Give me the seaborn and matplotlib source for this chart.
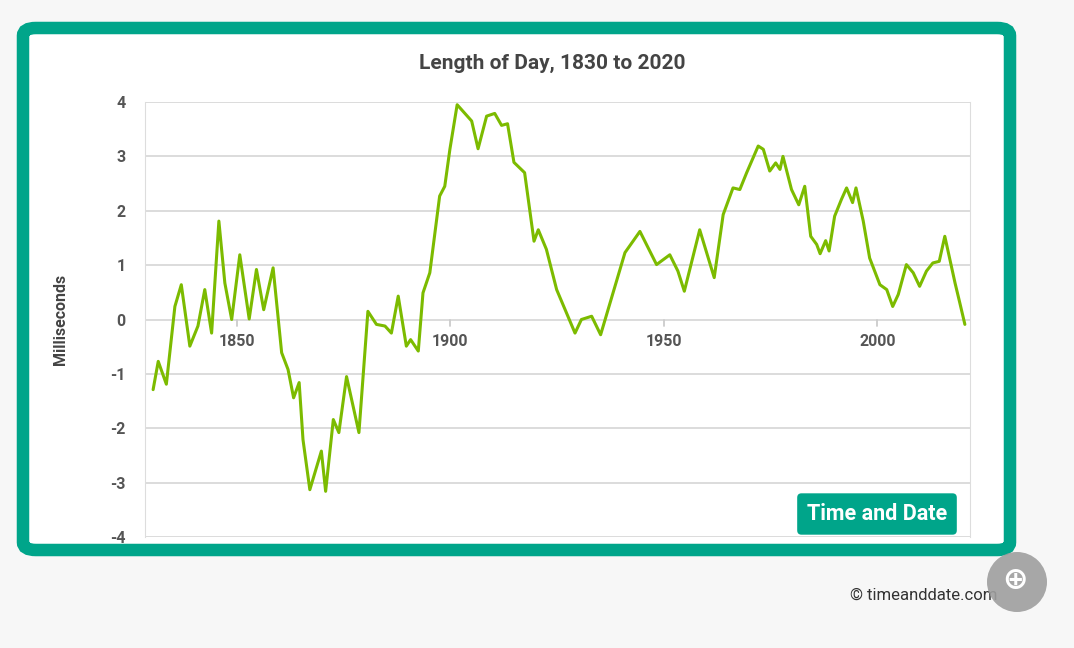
import matplotlib
matplotlib.use('Agg')
import matplotlib.pyplot as plt
from matplotlib.patches import FancyBboxPatch, Ellipse
import seaborn as sns
import pandas as pd

# values (year, milliseconds)
years = [1830.4, 1831.6, 1833.5, 1835.5, 1837.0, 1839.0, 1840.9, 1842.5, 1844.1, 1845.8,
         1847.2, 1848.8, 1850.7, 1852.9, 1854.6, 1856.3, 1858.5, 1860.5, 1862.0, 1863.3,
         1864.6, 1865.5, 1867.1, 1869.8, 1870.8, 1872.6, 1873.9, 1875.7, 1878.6, 1880.7,
         1882.7, 1884.7, 1886.2, 1887.8, 1889.7, 1890.7, 1892.5, 1893.6, 1895.2, 1897.5,
         1898.7, 1899.9, 1901.6, 1905.0, 1906.5, 1908.5, 1910.4, 1912.0, 1913.4, 1914.9,
         1917.4, 1919.6, 1920.6, 1922.5, 1924.9, 1929.2, 1930.7, 1933.1, 1935.2, 1940.9,
         1944.4, 1948.3, 1951.4, 1953.3, 1954.8, 1958.4, 1961.8, 1963.9, 1966.2, 1967.8,
         1969.4, 1972.1, 1973.3, 1974.8, 1976.2, 1977.2, 1977.9, 1979.9, 1981.6, 1983.0,
         1984.4, 1985.8, 1986.6, 1987.9, 1988.7, 1990.0, 1991.6, 1992.8, 1994.2, 1995.0,
         1996.7, 1998.2, 2000.6, 2002.2, 2003.6, 2004.9, 2006.8, 2008.4, 2009.9, 2011.5,
         2013.0, 2014.5, 2015.8, 2018.2, 2019.3, 2020.5]
lod = [-1.29, -0.77, -1.19, 0.24, 0.64, -0.49, -0.12, 0.55, -0.25, 1.81,
       0.67, 0.0, 1.19, 0.01, 0.92, 0.18, 0.95, -0.61, -0.92, -1.44,
       -1.16, -2.21, -3.13, -2.42, -3.16, -1.84, -2.08, -1.05, -2.08, 0.15,
       -0.09, -0.12, -0.25, 0.43, -0.49, -0.37, -0.58, 0.49, 0.86, 2.27,
       2.45, 3.13, 3.95, 3.65, 3.14, 3.74, 3.79, 3.57, 3.6, 2.89,
       2.70, 1.44, 1.65, 1.29, 0.55, -0.25, 0.0, 0.06, -0.28, 1.23,
       1.62, 1.01, 1.19, 0.89, 0.52, 1.65, 0.77, 1.93, 2.42, 2.39,
       2.70, 3.19, 3.13, 2.73, 2.88, 2.76, 3.0, 2.39, 2.11, 2.45,
       1.53, 1.38, 1.21, 1.45, 1.26, 1.90, 2.21, 2.42, 2.15, 2.42,
       1.81, 1.13, 0.64, 0.55, 0.24, 0.46, 1.01, 0.86, 0.61, 0.89,
       1.04, 1.07, 1.53, 0.67, 0.31, -0.09]
x_ticks = [1850, 1900, 1950, 2000]
y_ticks = [-4, -3, -2, -1, 0, 1, 2, 3, 4]

df = pd.DataFrame({'Year': years, 'LOD': lod})

sns.set_style('white')
plt.rcParams['font.family'] = ['Roboto', 'DejaVu Sans']

fig = plt.figure(figsize=(10.74, 6.48), dpi=100)
fig.patch.set_facecolor('#f7f7f7')

# teal card frame (behind the axes)
card = FancyBboxPatch((23 / 1074, 1 - 550 / 648), 987 / 1074, 522 / 648,
                      boxstyle='round,pad=0,rounding_size=0.012',
                      transform=fig.transFigure, facecolor='white',
                      edgecolor='#00a58a', linewidth=9, zorder=-5)
fig.patches.append(card)

ax = fig.add_axes([145 / 1074, 1 - 537 / 648, 825 / 1074, 435 / 648])
ax.set_zorder(2)
ax.set_facecolor('white')
sns.lineplot(data=df, x='Year', y='LOD', ax=ax, color='#7cbb00', linewidth=2.2)

ax.set_xlim(1828.5, 2021.7)
ax.set_ylim(-4, 4)
ax.set_yticks(y_ticks)
ax.set_yticklabels([str(t) for t in y_ticks], fontsize=11.5, fontweight='bold', color='#555555')
for t in y_ticks:
    ax.axhline(t, color='#d9d9d9', lw=1.3, zorder=0)
ax.set_xticks([])
for t in x_ticks:
    ax.plot([t, t], [0, -0.12], color='#cccccc', lw=1.3)
    ax.text(t, -0.27, str(t), ha='center', va='top', fontsize=11.5,
            fontweight='bold', color='#555555')
for s in ['top', 'bottom']:
    ax.spines[s].set_visible(False)
for s in ['left', 'right']:
    ax.spines[s].set_color('#dddddd')
ax.tick_params(axis='y', length=0, pad=14)
ax.set_xlabel('')
ax.set_ylabel('Milliseconds', fontsize=11.5, fontweight='bold', color='#444444', labelpad=30)

fig.text(552 / 1074, 1 - 63 / 648, 'Length of Day, 1830 to 2020', ha='center', va='center',
         fontsize=15, fontweight='bold', color='#444444')

# badge
fig.text(877 / 1074, 1 - 514 / 648, 'Time and Date', ha='center', va='center',
         fontsize=15.5, fontweight='bold', color='white', zorder=5,
         bbox=dict(boxstyle='round,pad=0.45,rounding_size=0.2', facecolor='#00a58a',
                   edgecolor='none'))

fig.text(997 / 1074, 1 - 595 / 648, '© timeanddate.com', ha='right', va='center',
         fontsize=12, color='#333333', zorder=4)

# zoom button
fig.patches.append(Ellipse((1017 / 1074, 1 - 582 / 648), 60 / 1074, 60 / 648,
                           transform=fig.transFigure, facecolor='#9e9e9e',
                           edgecolor='none', alpha=0.9, zorder=5))
fig.text(1015 / 1074, 1 - 580 / 648, '⊕', ha='center', va='center', fontsize=22,
         color='white', fontweight='bold', zorder=6)

fig.savefig('out.png', dpi=100, facecolor=fig.get_facecolor())
